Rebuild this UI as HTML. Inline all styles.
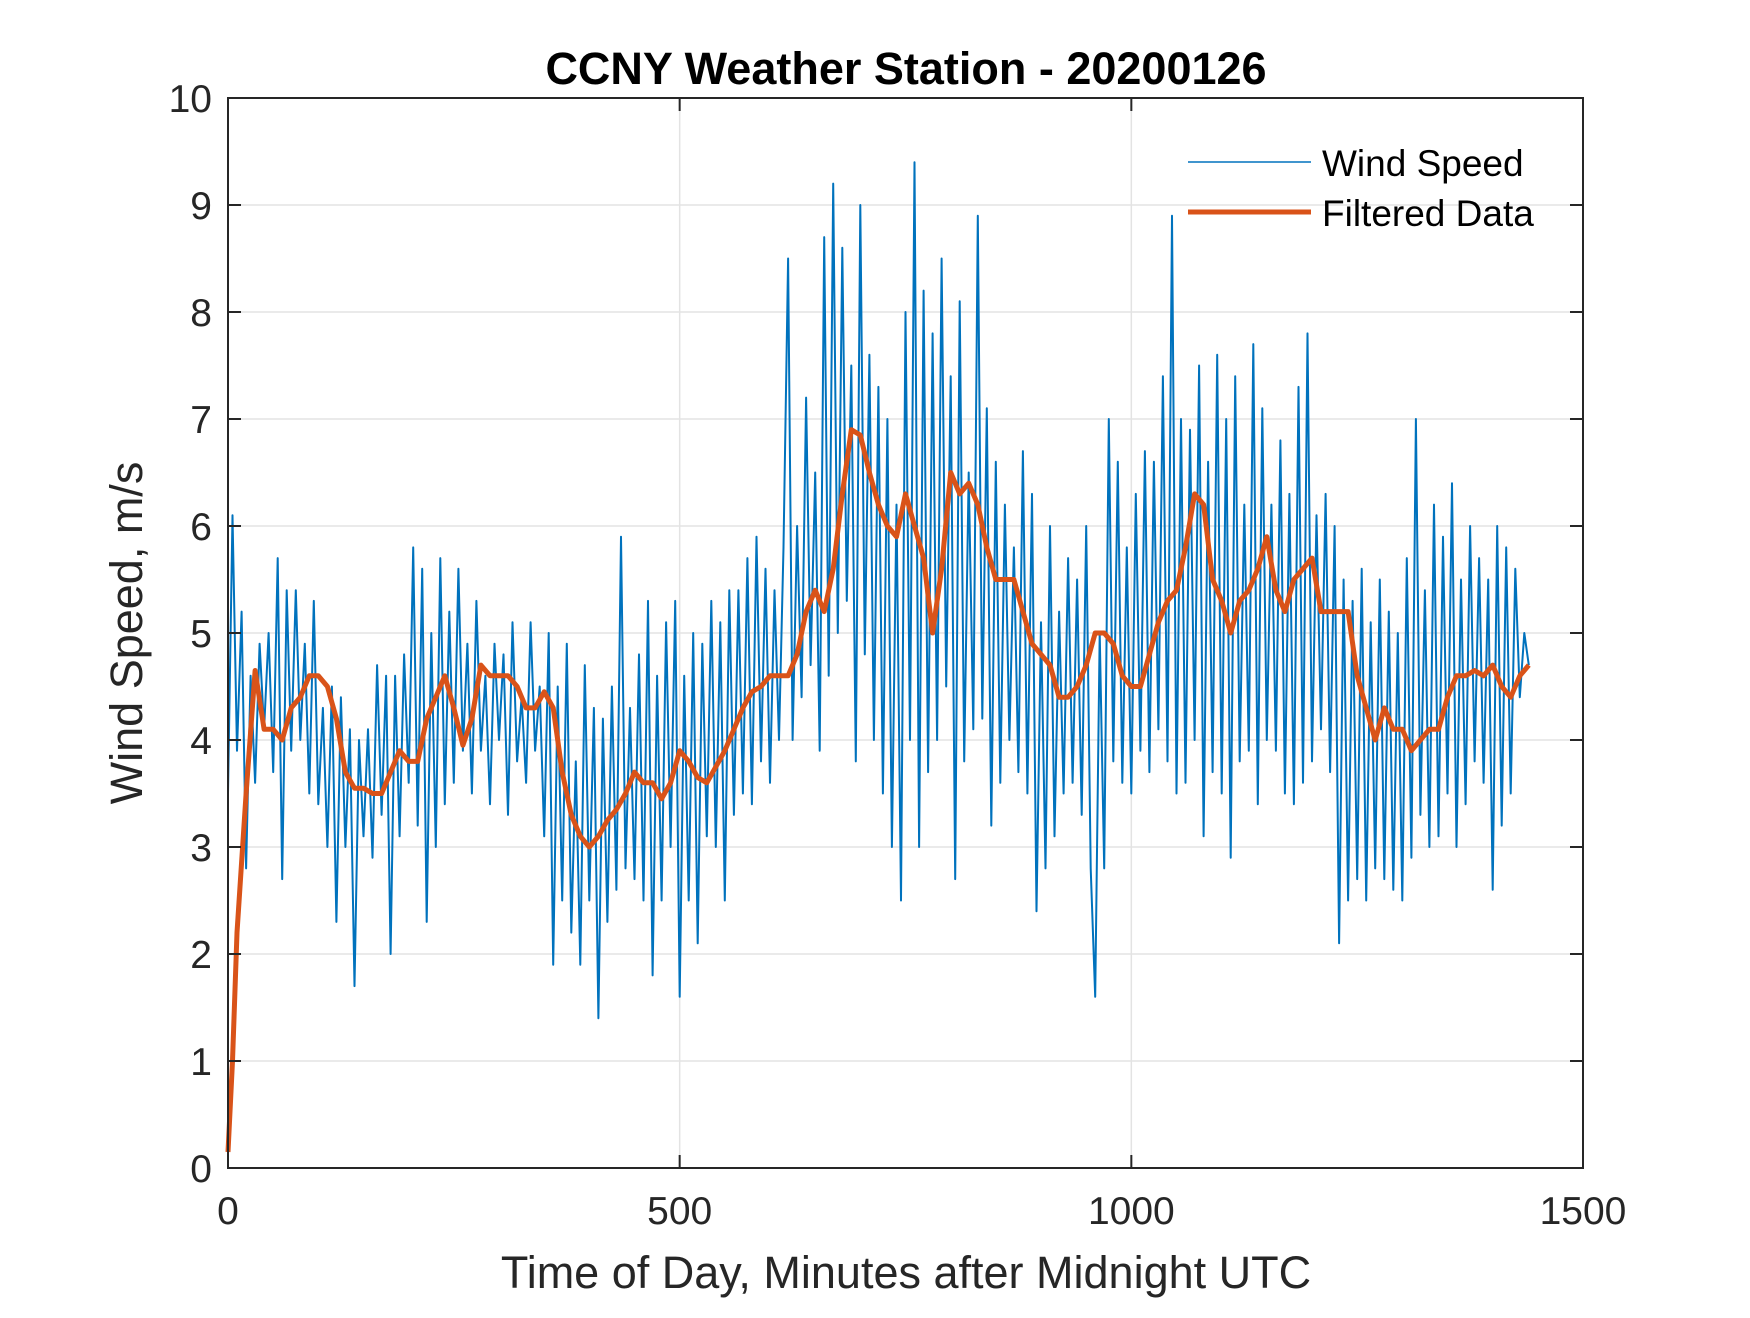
<!DOCTYPE html>
<html><head><meta charset="utf-8"><style>
body{margin:0;background:#fff;}
svg text{font-family:"Liberation Sans",Arial,sans-serif;}
</style></head><body>
<svg id="chart" width="1750" height="1313" viewBox="0 0 1750 1313" xmlns="http://www.w3.org/2000/svg">
<rect width="1750" height="1313" fill="#fff"/>
<g id="grid"></g>
<g id="series"></g>
<rect x="228" y="98" width="1355" height="1070" fill="none" stroke="#262626" stroke-width="2"/>
<g id="ticks"></g>
<text x="906" y="84" text-anchor="middle" font-size="45" font-weight="bold" fill="#000">CCNY Weather Station - 20200126</text>
<text x="906" y="1288" text-anchor="middle" font-size="45" fill="#262626">Time of Day, Minutes after Midnight UTC</text>
<text transform="translate(142,633) rotate(-90)" text-anchor="middle" font-size="45" fill="#262626">Wind Speed, m/s</text>
<g>
<line x1="1188" y1="162" x2="1311" y2="162" stroke="#0072BD" stroke-width="1.5"/>
<text x="1322" y="176" font-size="37" fill="#000">Wind Speed</text>
<line x1="1188" y1="212" x2="1311" y2="212" stroke="#D95319" stroke-width="5"/>
<text x="1322" y="226" font-size="37" fill="#000">Filtered Data</text>
</g>
</svg>
<script>
const xTicks=[0,500,1000,1500];
const yTicks=[0,1,2,3,4,5,6,7,8,9,10];
const windStep=5;
const windValues=[
3.5,6.1,3.9,5.2,2.8,4.6,3.6,4.9,4.1,5.0,3.7,5.7,
2.7,5.4,3.9,5.4,4.0,4.9,3.5,5.3,3.4,4.3,3.0,4.5,
2.3,4.4,3.0,4.1,1.7,4.0,3.1,4.1,2.9,4.7,3.3,4.6,
2.0,4.6,3.1,4.8,3.6,5.8,3.2,5.6,2.3,5.0,3.0,5.7,
3.4,5.2,3.6,5.6,3.9,4.9,3.5,5.3,3.9,4.6,3.4,4.9,
4.0,4.8,3.3,5.1,3.8,4.4,3.6,5.1,3.9,4.5,3.1,5.0,
1.9,4.5,2.5,4.9,2.2,3.8,1.9,4.7,2.5,4.3,1.4,4.2,
2.3,4.5,2.6,5.9,2.8,4.3,2.7,4.8,2.5,5.3,1.8,4.6,
2.5,5.1,3.0,5.3,1.6,4.6,2.5,5.0,2.1,4.9,3.1,5.3,
3.0,5.1,2.5,5.4,3.3,5.4,3.5,5.7,3.4,5.9,3.8,5.6,
3.6,5.4,4.0,5.8,8.5,4.0,6.0,4.4,7.2,4.7,6.5,3.9,
8.7,4.6,9.2,5.0,8.6,5.3,7.5,3.8,9.0,4.8,7.6,4.0,
7.3,3.5,7.0,3.0,6.2,2.5,8.0,4.0,9.4,3.0,8.2,3.7,
7.8,4.0,8.5,4.5,7.4,2.7,8.1,3.8,6.5,4.1,8.9,4.2,
7.1,3.2,6.6,3.6,6.2,4.0,5.8,3.7,6.7,3.5,6.3,2.4,
5.1,2.8,6.0,3.1,5.2,3.5,5.7,3.6,5.5,3.3,6.0,2.8,
1.6,5.0,2.8,7.0,3.8,6.6,3.6,5.8,3.5,6.3,3.9,6.7,
3.7,6.6,4.1,7.4,3.8,8.9,3.5,7.0,3.6,6.9,4.0,7.5,
3.1,6.6,3.7,7.6,3.5,7.0,2.9,7.4,3.8,6.2,3.9,7.7,
3.4,7.1,4.0,6.2,3.9,6.8,3.5,6.3,3.4,7.3,3.6,7.8,
3.8,6.1,4.1,6.3,3.7,6.0,2.1,5.5,2.5,5.3,2.7,5.6,
2.5,5.1,2.8,5.5,2.7,5.2,2.6,5.0,2.5,5.7,2.9,7.0,
3.3,5.4,3.0,6.2,3.1,5.9,3.5,6.4,3.0,5.5,3.4,6.0,
3.8,5.7,3.6,5.5,2.6,6.0,3.2,5.8,3.5,5.6,4.4,5.0,
4.7];
const filtMinutes=[0,5,10,20,30,40,50,60,70,80,90,100,110,120,130,140,150,160,170,180,190,200,210,220,230,240,250,260,270,280,290,300,310,320,330,340,350,360,370,380,390,400,410,420,430,440,450,460,470,480,490,500,510,520,530,540,550,560,570,580,590,600,610,620,630,640,650,660,670,680,690,700,710,720,730,740,750,760,770,780,790,800,810,820,830,840,850,860,870,880,890,900,910,920,930,940,950,960,970,980,990,1000,1010,1020,1030,1040,1050,1060,1070,1080,1090,1100,1110,1120,1130,1140,1150,1160,1170,1180,1190,1200,1210,1220,1230,1240,1250,1260,1270,1280,1290,1300,1310,1320,1330,1340,1350,1360,1370,1380,1390,1400,1410,1420,1430,1440];
const filtValues=[0.15,1,2.2,3.5,4.65,4.1,4.1,4.0,4.3,4.4,4.6,4.6,4.5,4.2,3.7,3.55,3.55,3.5,3.5,3.7,3.9,3.8,3.8,4.2,4.4,4.6,4.3,3.95,4.2,4.7,4.6,4.6,4.6,4.5,4.3,4.3,4.45,4.3,3.7,3.3,3.1,3.0,3.1,3.25,3.35,3.5,3.7,3.6,3.6,3.45,3.6,3.9,3.8,3.65,3.6,3.75,3.9,4.1,4.3,4.45,4.5,4.6,4.6,4.6,4.8,5.2,5.4,5.2,5.6,6.3,6.9,6.85,6.5,6.2,6.0,5.9,6.3,6.0,5.7,5.0,5.6,6.5,6.3,6.4,6.2,5.8,5.5,5.5,5.5,5.2,4.9,4.8,4.7,4.4,4.4,4.5,4.7,5.0,5.0,4.9,4.6,4.5,4.5,4.8,5.1,5.3,5.4,5.8,6.3,6.2,5.5,5.3,5.0,5.3,5.4,5.6,5.9,5.4,5.2,5.5,5.6,5.7,5.2,5.2,5.2,5.2,4.6,4.3,4.0,4.3,4.1,4.1,3.9,4.0,4.1,4.1,4.4,4.6,4.6,4.65,4.6,4.7,4.5,4.4,4.6,4.7];

const L=228,R=1583,T=98,B=1168;
const xs=v=>L+(v-0)/1500*(R-L);
const ys=v=>B-(v-0)/10*(B-T);
const NS='http://www.w3.org/2000/svg';
function mk(tag,attrs,parent){const e=document.createElementNS(NS,tag);for(const k in attrs)e.setAttribute(k,attrs[k]);parent.appendChild(e);return e;}
const grid=document.getElementById('grid'),ticks=document.getElementById('ticks'),series=document.getElementById('series');
xTicks.forEach(t=>{
  const x=xs(t);
  const g=mk('line',{x1:x,y1:T,x2:x,y2:B,stroke:'#e3e3e3','stroke-width':1.5},grid);
  
  
  const a=mk('line',{x1:x,y1:B,x2:x,y2:B-13,stroke:'#262626','stroke-width':2},ticks);
  
  
  const b=mk('line',{x1:x,y1:T,x2:x,y2:T+13,stroke:'#262626','stroke-width':2},ticks);
  
  
  const tx=mk('text',{x:x,y:B+56,'text-anchor':'middle','font-size':39,fill:'#262626'},ticks);
  tx.textContent=t;
  
  
});
yTicks.forEach(t=>{
  const y=ys(t);
  const g=mk('line',{x1:L,y1:y,x2:R,y2:y,stroke:'#e3e3e3','stroke-width':1.5},grid);
  
  
  const a=mk('line',{x1:L,y1:y,x2:L+13,y2:y,stroke:'#262626','stroke-width':2},ticks);
  
  
  const b=mk('line',{x1:R,y1:y,x2:R-13,y2:y,stroke:'#262626','stroke-width':2},ticks);
  
  
  const tx=mk('text',{x:L-16,y:y+14,'text-anchor':'end','font-size':39,fill:'#262626'},ticks);
  tx.textContent=t;
  
  
});
const wp=windValues.map((v,i)=>xs(i*windStep).toFixed(1)+','+ys(v).toFixed(1)).join(' ');
const w=mk('polyline',{points:wp,fill:'none',stroke:'#0072BD','stroke-width':2,'stroke-linejoin':'round'},series);


const fp=filtValues.map((v,i)=>xs(filtMinutes[i]).toFixed(1)+','+ys(v).toFixed(1)).join(' ');
const f=mk('polyline',{points:fp,fill:'none',stroke:'#D95319','stroke-width':5,'stroke-linejoin':'round'},series);


</script>
</body></html>
